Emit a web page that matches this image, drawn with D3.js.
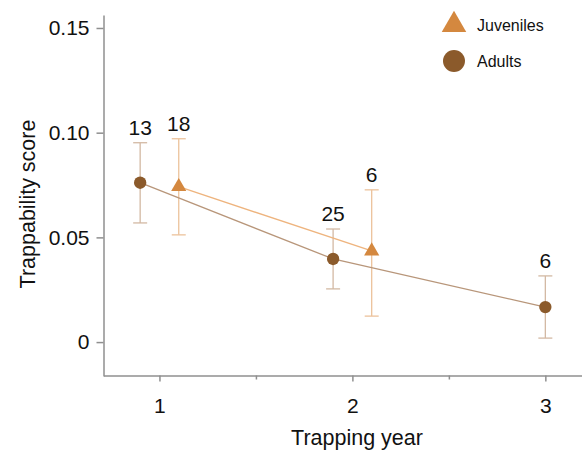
<!DOCTYPE html>
<html lang="en">
<head>
    <meta charset="UTF-8">
    <title>Trappability score by trapping year</title>
    <style>
        body { margin: 0; background: #fff; }
        svg { font-family: "Liberation Sans", Arial, sans-serif; }
    </style>
</head>
<body>
    <div id="chart"></div>
    <script src="https://cdn.jsdelivr.net/npm/d3@7"></script>
    <script>
        // data
        const years = [1, 2, 3];
        const adultYears = [1, 2, 3];
        const adultScore = [0.0761, 0.0397, 0.0167];
        const adultLow = [0.0569, 0.0254, 0.0019];
        const adultHigh = [0.0952, 0.0540, 0.0316];
        const adultN = [13, 25, 6];

        const juvYears = [1, 2];
        const juvScore = [0.0742, 0.0435];
        const juvLow = [0.0512, 0.0124];
        const juvHigh = [0.0971, 0.0727];
        const juvN = [18, 6];

        const yTicks = [0, 0.05, 0.10, 0.15];
        const yTickLabels = ["0", "0.05", "0.10", "0.15"];
        const xMinorTicks = [1.5, 2.5];

        const width = 582, height = 452;
        const x = d3.scaleLinear().domain([0.71, 3.19]).range([103.5, 582]);
        const y = d3.scaleLinear().domain([-0.0162, 0.1562]).range([376, 15]);

        const svg = d3.select("#chart").append("svg")
            .attr("width", width)
            .attr("height", height);

        // axes
        const axisColor = "#8f8f8f";
        svg.append("g")
            .attr("transform", "translate(103.5,0)")
            .call(d3.axisLeft(y).tickValues(yTicks).tickFormat((d, i) => yTickLabels[i]).tickSize(7).tickPadding(7).tickSizeOuter(0));
        svg.append("g")
            .attr("transform", "translate(0,375.5)")
            .call(d3.axisBottom(x).tickValues(years).tickFormat(d3.format("d")).tickSize(6).tickPadding(17).tickSizeOuter(0));
        svg.append("g")
            .attr("transform", "translate(0,375.5)")
            .call(d3.axisBottom(x).tickValues(xMinorTicks).tickFormat("").tickSize(4).tickSizeOuter(0))
            .call(g => g.select(".domain").remove());
        svg.selectAll(".domain, .tick line").attr("stroke", axisColor).attr("stroke-width", 1.5);
        svg.selectAll(".tick text").attr("font-size", 21).attr("fill", "#111");

        // axis titles
        svg.append("text")
            .attr("transform", "translate(35,204) rotate(-90)")
            .attr("text-anchor", "middle")
            .attr("font-size", 21.5)
            .attr("fill", "#111")
            .text("Trappability score");
        svg.append("text")
            .attr("x", 357)
            .attr("y", 445)
            .attr("text-anchor", "middle")
            .attr("font-size", 21.5)
            .attr("fill", "#111")
            .text("Trapping year");

        // build series; dodge when both series share a year
        function makeSeries(yrs, score, low, high, n, sign) {
            return yrs.map((yr, i) => {
                const shared = adultYears.includes(yr) && juvYears.includes(yr);
                return { yr: shared ? yr + sign * 0.1 : yr, v: score[i], lo: low[i], hi: high[i], n: n[i] };
            });
        }
        const adults = makeSeries(adultYears, adultScore, adultLow, adultHigh, adultN, -1);
        const juveniles = makeSeries(juvYears, juvScore, juvLow, juvHigh, juvN, 1);

        const series = [
            { data: adults, line: "#b8967a", err: "#d3b9a3", fill: "#8b5a2b", shape: "circle" },
            { data: juveniles, line: "#eeb47e", err: "#ecc29b", fill: "#d4883f", shape: "triangle" }
        ];

        const line = d3.line().x(d => x(d.yr)).y(d => y(d.v));

        series.forEach(s => {
            const g = svg.append("g");
            // error bars
            g.selectAll(".err").data(s.data).join("line")
                .attr("x1", d => x(d.yr)).attr("x2", d => x(d.yr))
                .attr("y1", d => y(d.lo)).attr("y2", d => y(d.hi))
                .attr("stroke", s.err).attr("stroke-width", 1.3);
            g.selectAll(".capTop").data(s.data).join("line")
                .attr("x1", d => x(d.yr) - 7).attr("x2", d => x(d.yr) + 7)
                .attr("y1", d => y(d.hi)).attr("y2", d => y(d.hi))
                .attr("stroke", s.err).attr("stroke-width", 1.3);
            g.selectAll(".capBot").data(s.data).join("line")
                .attr("x1", d => x(d.yr) - 7).attr("x2", d => x(d.yr) + 7)
                .attr("y1", d => y(d.lo)).attr("y2", d => y(d.lo))
                .attr("stroke", s.err).attr("stroke-width", 1.3);
            // n labels
            g.selectAll(".n").data(s.data).join("text")
                .attr("x", d => x(d.yr))
                .attr("y", d => y(d.hi) - 8)
                .attr("text-anchor", "middle")
                .attr("font-size", 21)
                .attr("fill", "#111")
                .text(d => d.n);
        });

        series.forEach(s => {
            svg.append("path")
                .datum(s.data)
                .attr("d", line)
                .attr("fill", "none")
                .attr("stroke", s.line)
                .attr("stroke-width", 1.3);
        });

        series.forEach(s => {
            const sym = s.shape === "circle"
                ? d3.symbol(d3.symbolCircle, 120)
                : d3.symbol(d3.symbolTriangle, 100);
            svg.append("g").selectAll("path").data(s.data).join("path")
                .attr("transform", d => `translate(${x(d.yr)},${y(d.v)})`)
                .attr("d", sym)
                .attr("fill", s.fill);
        });

        // legend
        const legend = svg.append("g");
        const legendItems = [
            { label: "Juveniles", fill: "#d4883f", sym: d3.symbol(d3.symbolTriangle, 260) },
            { label: "Adults", fill: "#8b5a2b", sym: d3.symbol(d3.symbolCircle, 380) }
        ];
        legendItems.forEach((item, i) => {
            const cy = 25 + i * 36;
            legend.append("path")
                .attr("transform", `translate(454,${cy})`)
                .attr("d", item.sym)
                .attr("fill", item.fill);
            legend.append("text")
                .attr("x", 477)
                .attr("y", cy + 6)
                .attr("font-size", 16)
                .attr("fill", "#111")
                .text(item.label);
        });
    </script>
</body>
</html>
